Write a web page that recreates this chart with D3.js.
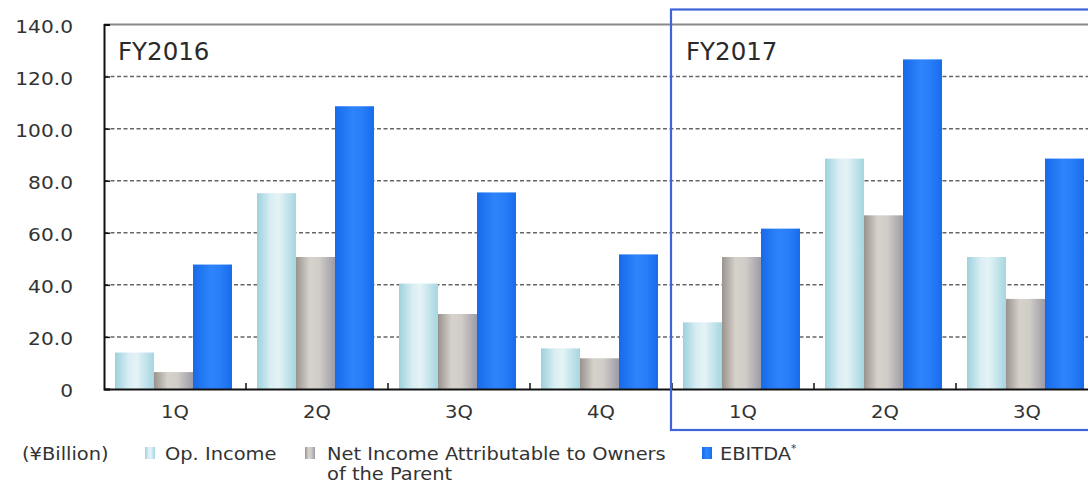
<!DOCTYPE html>
<html>
<head>
<meta charset="utf-8">
<script src="https://cdn.jsdelivr.net/npm/d3@7"></script>
<style>
  html, body { margin: 0; padding: 0; background: #fff; overflow: hidden; }
  svg { display: block; font-family: "DejaVu Sans", Verdana, sans-serif; }
</style>
</head>
<body>
<svg id="chart" width="1088" height="486"></svg>
<script>
// Quarterly results, ¥ billion
const quarters = ["1Q", "2Q", "3Q", "4Q", "1Q", "2Q", "3Q"];
const fiscalYears = ["FY2016", "FY2016", "FY2016", "FY2016", "FY2017", "FY2017", "FY2017"];
const opIncome = [14.0, 75.2, 40.5, 15.6, 25.6, 88.5, 50.7];
const netIncome = [6.5, 50.7, 28.8, 11.8, 50.7, 66.7, 34.6];
const ebitda = [47.8, 108.6, 75.5, 51.7, 61.6, 126.6, 88.5];
const yTicks = [0, 20, 40, 60, 80, 100, 120, 140];
const seriesNames = ["Op. Income", "Net Income Attributable to Owners", "EBITDA"];

const svg = d3.select("#chart");
const W = 1088;
const plot = { left: 104, top: 24.5, bottom: 389, step: 142 };
const WIDE = 1.12; // horizontal stretch of the label face

const keys = quarters.map((q, i) => fiscalYears[i] + "-" + q);
const rows = keys.map((k, i) => ({ key: k, q: quarters[i], values: [opIncome[i], netIncome[i], ebitda[i]] }));

const x = d3.scaleBand().domain(keys)
  .range([plot.left, plot.left + plot.step * keys.length]).padding(0);
const xInner = d3.scaleBand().domain(d3.range(3)).range([11, 128]).padding(0);
const y = d3.scaleLinear().domain([0, 140]).range([plot.bottom, plot.top]);

// Cylindrical shading for each series
const defs = svg.append("defs");
const gradients = [
  { id: "g-op", stops: [[0, "#9dd1dd"], [0.35, "#d9eef3"], [0.55, "#e4f3f6"], [1, "#a6d6e1"]] },
  { id: "g-net", stops: [[0, "#9a938d"], [0.35, "#d6d2cb"], [0.6, "#d0cdc8"], [1, "#9d9ca6"]] },
  { id: "g-ebitda", stops: [[0, "#176ae9"], [0.45, "#2d84fb"], [0.7, "#287ef8"], [1, "#186cec"]] }
];
gradients.forEach(g => {
  const lg = defs.append("linearGradient").attr("id", g.id)
    .attr("x1", "0%").attr("x2", "100%").attr("y1", "0%").attr("y2", "0%");
  g.stops.forEach(s => lg.append("stop").attr("offset", s[0]).attr("stop-color", s[1]));
});
const fills = gradients.map(g => `url(#${g.id})`);

// Dashed gridlines
svg.append("g").selectAll("line")
  .data(yTicks.filter(t => t > 0 && t < 140))
  .join("line")
  .attr("x1", plot.left).attr("x2", W)
  .attr("y1", d => y(d)).attr("y2", d => y(d))
  .attr("stroke", "#666").attr("stroke-width", 1.5)
  .attr("stroke-dasharray", "4,2.5");

// Top frame line
svg.append("line")
  .attr("x1", plot.left).attr("x2", W)
  .attr("y1", y(140)).attr("y2", y(140))
  .attr("stroke", "#8a8a8a").attr("stroke-width", 2);

// Bars
const groups = svg.append("g").selectAll("g")
  .data(rows).join("g")
  .attr("transform", d => `translate(${x(d.key)},0)`);
groups.selectAll("rect")
  .data(d => d.values.map((v, i) => ({ v, i })))
  .join("rect")
  .attr("x", d => xInner(d.i))
  .attr("width", xInner.bandwidth())
  .attr("y", d => y(d.v))
  .attr("height", d => y(0) - y(d.v))
  .attr("fill", d => fills[d.i]);

// Y axis
const yAxis = d3.axisLeft(y).tickValues(yTicks)
  .tickFormat(d => d === 0 ? "0" : d3.format(".1f")(d))
  .tickSize(-6).tickPadding(31 / WIDE);
const gy = svg.append("g").attr("transform", `translate(${plot.left},0)`).call(yAxis);
gy.select(".domain").attr("stroke", "#111").attr("stroke-width", 2);
gy.selectAll(".tick line").attr("stroke", "#111").attr("stroke-width", 1.5);
gy.selectAll(".tick text").attr("fill", "#333").attr("font-size", 18)
  .attr("font-family", "DejaVu Sans, Verdana, sans-serif").attr("dy", "0.42em")
  .attr("transform", `scale(${WIDE},1)`);

// X axis with category separators
const xAxis = d3.axisBottom(x).tickFormat((d, i) => quarters[i]).tickSize(0).tickPadding(17);
const gx = svg.append("g").attr("transform", `translate(0,${plot.bottom})`).call(xAxis);
gx.select(".domain").attr("stroke", "#111").attr("stroke-width", 2.2);
gx.selectAll(".tick text").attr("fill", "#333").attr("font-size", 17.5)
  .attr("font-family", "DejaVu Sans, Verdana, sans-serif")
  .attr("transform", `scale(${WIDE},1)`);
svg.append("g").selectAll("line")
  .data(keys.slice(1))
  .join("line")
  .attr("x1", d => x(d)).attr("x2", d => x(d))
  .attr("y1", plot.bottom).attr("y2", plot.bottom - 6)
  .attr("stroke", "#111").attr("stroke-width", 1.5);

// Fiscal year labels
const fyStarts = keys.filter((k, i) => i === 0 || fiscalYears[i] !== fiscalYears[i - 1]);
svg.append("g").selectAll("text")
  .data(fyStarts).join("text")
  .attr("x", d => x(d) + 14).attr("y", 60)
  .attr("font-size", 24.5).attr("fill", "#2a2a2a")
  .text(d => d.split("-")[0]);

// FY2017 highlight frame
const fy17 = keys.find((k, i) => fiscalYears[i] === "FY2017");
svg.append("rect")
  .attr("x", x(fy17) - 1).attr("y", 9.5)
  .attr("width", W)
  .attr("height", 420.5)
  .attr("fill", "none").attr("stroke", "#4063d8").attr("stroke-width", 2.2);

// Legend
const legend = svg.append("g").attr("font-size", 18).attr("fill", "#333");
function legendText(x0, y0) {
  return legend.append("text")
    .attr("transform", `translate(${x0},${y0}) scale(1.08,1)`);
}
legendText(22, 460).text("(¥Billion)");
[145, 305, 702].forEach((lx, i) => {
  legend.append("rect").attr("x", lx).attr("y", 447).attr("width", 10).attr("height", 12)
    .attr("fill", fills[i]);
});
legendText(165, 460).text(seriesNames[0]);
legendText(327, 460).text(seriesNames[1]);
legendText(327, 480).text("of the Parent");
const eb = legendText(720, 460);
eb.append("tspan").text(seriesNames[2]);
eb.append("tspan").attr("font-size", 10).attr("dy", -8).text("*");
</script>
</body>
</html>
